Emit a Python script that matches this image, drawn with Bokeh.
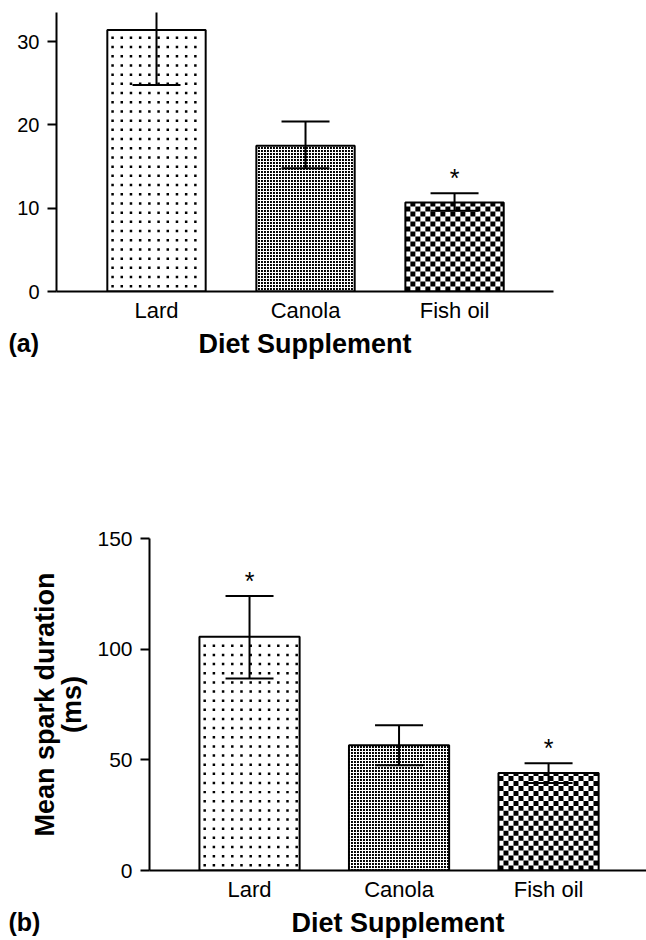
import numpy as np
from bokeh.plotting import figure
from bokeh.models import ColumnDataSource, FixedTicker, Range1d, Whisker, TeeHead, Title
from bokeh.embed import file_html
from bokeh.resources import INLINE
from bokeh.core.properties import value

# ---------------- data ----------------
categories = ["Lard", "Canola", "Fish oil"]
positions = [1, 2, 3]

# panel (a)
a_means = [31.4, 17.5, 10.7]
a_upper = [38.0, 20.4, 11.8]
a_lower = [24.8, 14.8, 9.7]
a_star = [False, False, True]
a_yticks = [0, 10, 20, 30]

# panel (b)
b_means = [105.6, 56.6, 44.0]
b_upper = [124.0, 65.6, 48.5]
b_lower = [86.7, 47.6, 39.5]
b_star = [True, False, True]
b_yticks = [0, 50, 100, 150]

FONT = "Liberation Sans"
FONT_V = value(FONT)


def dot_quads(xc, bw, top, px_x, px_y, pitch=9.2, size=2.5, offset=4.0):
    xs = np.arange(offset, bw * px_x - size, pitch)
    ys = np.arange(offset, top * px_y - size, pitch)
    X, Y = np.meshgrid(xs, ys)
    left = xc - bw / 2 + X.ravel() / px_x
    bottom = Y.ravel() / px_y
    return dict(left=left, right=left + size / px_x, bottom=bottom, top=bottom + size / px_y)


def checker_quads(xc, bw, top, px_x, px_y, cell=5.0):
    nx = int(np.ceil(bw * px_x / cell))
    ny = int(np.ceil(top * px_y / cell))
    I, J = np.meshgrid(np.arange(nx), np.arange(ny))
    m = (I + J) % 2 == 0
    left = xc - bw / 2 + I[m] * cell / px_x
    right = np.minimum(left + cell / px_x, xc + bw / 2)
    bottom = J[m] * cell / px_y
    topv = np.minimum(bottom + cell / px_y, top)
    return dict(left=left, right=right, bottom=bottom, top=topv)


def make_panel(means, upper, lower, star, yticks, yend, xr, width, height,
               borders, bar_w, tick_font, ylabel, tag, tag_offset):
    left, right, top, bottom = borders
    p = figure(width=width, height=height, output_backend="svg", toolbar_location=None,
               x_range=Range1d(*xr), y_range=Range1d(0, yend),
               min_border_left=left, min_border_right=right,
               min_border_top=top, min_border_bottom=bottom)
    p.outline_line_color = None
    p.grid.visible = False
    p.background_fill_color = "white"
    p.border_fill_color = "white"

    px_x = (width - left - right) / (xr[1] - xr[0])
    px_y = (height - top - bottom) / yend

    # Lard: sparse dots
    p.vbar(x=[positions[0]], top=[means[0]], bottom=0, width=bar_w,
           fill_color="white", line_color=None)
    p.quad(source=ColumnDataSource(dot_quads(positions[0], bar_w, means[0], px_x, px_y)),
           left="left", right="right", bottom="bottom", top="top",
           fill_color="black", line_color=None)
    # Canola: fine dense dot screen
    p.vbar(x=[positions[1]], top=[means[1]], bottom=0, width=bar_w,
           fill_color="black", line_color=None, hatch_pattern="+",
           hatch_scale=3, hatch_weight=1.1, hatch_color="white")
    # Fish oil: checkerboard
    p.vbar(x=[positions[2]], top=[means[2]], bottom=0, width=bar_w,
           fill_color="white", line_color=None)
    p.quad(source=ColumnDataSource(checker_quads(positions[2], bar_w, means[2], px_x, px_y)),
           left="left", right="right", bottom="bottom", top="top",
           fill_color="black", line_color=None)
    # outlines
    p.vbar(x=positions, top=means, bottom=0, width=bar_w,
           fill_color=None, line_color="black", line_width=2)

    src = ColumnDataSource(dict(x=positions, upper=upper, lower=lower))
    w = Whisker(source=src, base="x", upper="upper", lower="lower", level="annotation",
                line_color="black", line_width=2,
                upper_head=TeeHead(size=48, line_width=2, line_color="black"),
                lower_head=TeeHead(size=48, line_width=2, line_color="black"))
    p.add_layout(w)

    sx = [positions[i] for i in range(len(star)) if star[i]]
    sy = [upper[i] for i in range(len(star)) if star[i]]
    p.text(x=sx, y=sy, text=["*"] * len(sx), text_align="center",
           text_baseline="middle", text_font_size="25px", text_font=FONT_V,
           y_offset=-15, text_color="black")

    # y axis
    ya = p.yaxis[0]
    ya.ticker = FixedTicker(ticks=yticks)
    ya.minor_tick_line_color = None
    ya.major_tick_in = 0
    ya.major_tick_out = 9
    ya.major_tick_line_width = 2
    ya.axis_line_width = 2
    ya.major_label_standoff = 8
    ya.major_label_text_font = FONT
    ya.major_label_text_font_size = tick_font
    ya.major_label_text_color = "black"
    if ylabel:
        ya.axis_label = ylabel
        ya.axis_label_text_font = FONT
        ya.axis_label_text_font_style = "bold"
        ya.axis_label_text_font_size = "27px"
        ya.axis_label_text_line_height = 0.9
        ya.axis_label_standoff = 7
        ya.axis_label_text_color = "black"

    # x axis
    xa = p.xaxis[0]
    xa.ticker = FixedTicker(ticks=positions)
    xa.major_label_overrides = {positions[i]: categories[i] for i in range(len(categories))}
    xa.minor_tick_line_color = None
    xa.major_tick_line_color = None
    xa.major_tick_in = 0
    xa.major_tick_out = 0
    xa.axis_line_width = 2
    xa.major_label_standoff = 6
    xa.major_label_text_font = FONT
    xa.major_label_text_font_size = "22px"
    xa.major_label_text_color = "black"
    xa.axis_label = "Diet Supplement"
    xa.axis_label_text_font = FONT
    xa.axis_label_text_font_style = "bold"
    xa.axis_label_text_font_size = "27px"
    xa.axis_label_standoff = 3
    xa.axis_label_text_color = "black"

    p.add_layout(Title(text=tag, align="left", vertical_align="top",
                       offset=tag_offset, standoff=-66,
                       text_font=FONT, text_font_style="bold", text_font_size="25px",
                       text_color="black"), "below")
    return p


pa = make_panel(a_means, a_upper, a_lower, a_star, a_yticks, 33.5,
                (0.329, 3.664), 646, 380, (56, 93, 12, 89), 0.66, "20px",
                None, "(a)", -48)
pb = make_panel(b_means, b_upper, b_lower, b_star, b_yticks, 150,
                (0.331, 3.655), 646, 560, (149, 0, 158, 68), 0.67, "21px",
                "Mean spark duration\n(ms)", "(b)", -141)

open("out.html", "w").write(file_html([pa, pb], INLINE))
